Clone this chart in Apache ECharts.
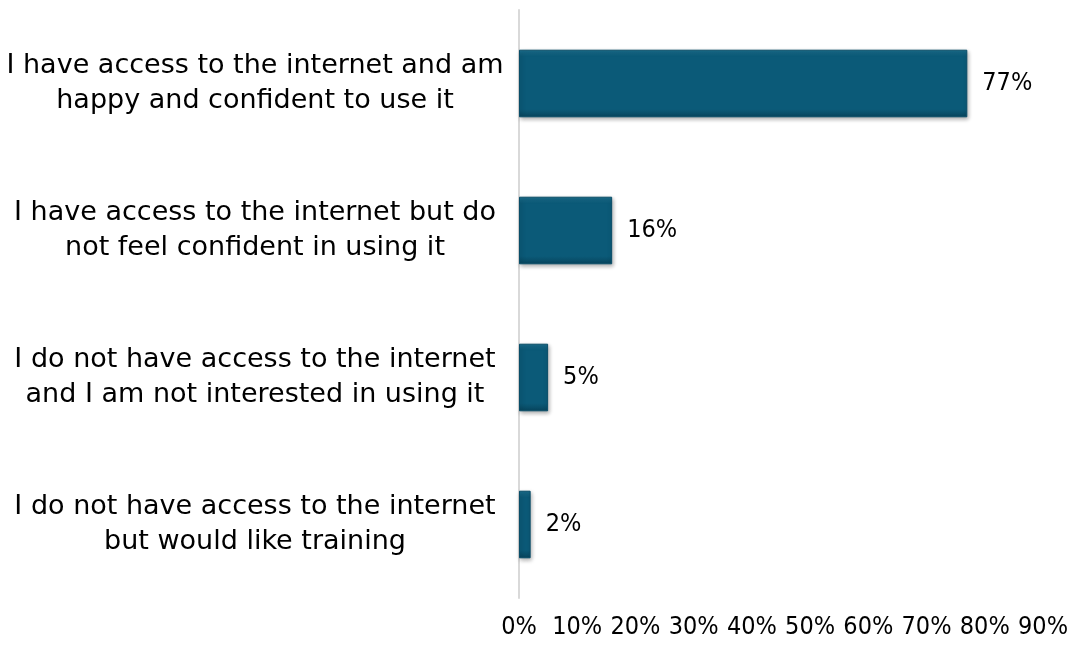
<!DOCTYPE html>
<html>
<head>
<meta charset="utf-8">
<script src="https://cdn.jsdelivr.net/npm/echarts@6/dist/echarts.min.js"></script>
<style>
html,body{margin:0;padding:0;background:#fff;}
#chart{width:1071px;height:646px;}
</style>
</head>
<body>
<div id="chart"></div>
<script>
const categories = [
  "I have access to the internet and am\nhappy and confident to use it",
  "I have access to the internet but do\nnot feel confident in using it",
  "I do not have access to the internet\nand I am not interested in using it",
  "I do not have access to the internet\nbut would like training"
];
const values = [77, 16, 5, 2];
const xTicks = [0, 10, 20, 30, 40, 50, 60, 70, 80, 90];

const numFont = '"DejaVu Sans Condensed", "DejaVu Sans", sans-serif';
const catFont = '"DejaVu Sans", sans-serif';

const chart = echarts.init(document.getElementById('chart'));
chart.setOption({
  animation: false,
  grid: { left: 519, right: 25, top: 10, bottom: 48 },
  xAxis: {
    type: 'value',
    min: xTicks[0],
    max: xTicks[xTicks.length - 1],
    interval: 10,
    splitLine: { show: false },
    axisLine: { show: false },
    axisTick: { show: false },
    axisLabel: {
      formatter: '{value}%',
      color: '#000',
      fontSize: 25,
      margin: 17,
      fontFamily: numFont
    }
  },
  yAxis: {
    type: 'category',
    inverse: true,
    data: categories,
    axisTick: { show: false },
    axisLine: { show: true, lineStyle: { color: '#d9d9d9', width: 2 } },
    axisLabel: {
      color: '#000',
      fontSize: 27,
      lineHeight: 35,
      align: 'center',
      margin: 264,
      fontFamily: catFont
    }
  },
  series: [{
    type: 'bar',
    data: values,
    barWidth: '46%',
    itemStyle: {
      color: new echarts.graphic.LinearGradient(0, 0, 0, 1, [
        { offset: 0, color: '#1b6e8d' },
        { offset: 0.1, color: '#0b5a78' },
        { offset: 0.88, color: '#0b5a78' },
        { offset: 1, color: '#07445c' }
      ]),
      borderColor: '#094d68',
      borderWidth: 1,
      shadowColor: 'rgba(0,0,0,0.3)',
      shadowBlur: 4,
      shadowOffsetX: 1,
      shadowOffsetY: 2
    },
    label: {
      show: true,
      position: 'right',
      distance: 15,
      formatter: '{c}%',
      color: '#000',
      fontSize: 25,
      fontFamily: numFont
    }
  }]
});
</script>
</body>
</html>
